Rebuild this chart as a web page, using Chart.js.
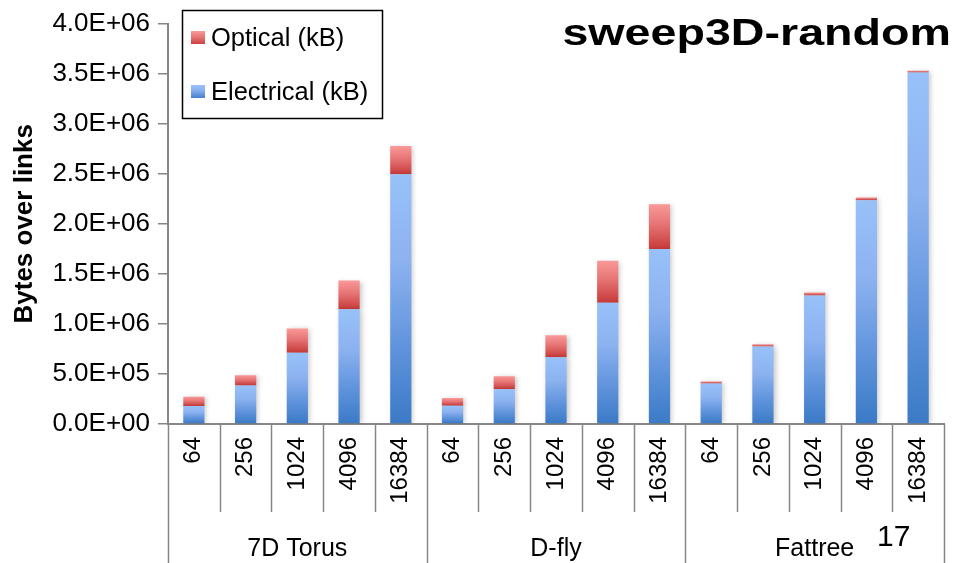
<!DOCTYPE html>
<html>
<head>
<meta charset="utf-8">
<script src="https://cdn.jsdelivr.net/npm/chart.js@4/dist/chart.umd.min.js"></script>
<style>
  html, body { margin: 0; padding: 0; background: #ffffff; }
  #wrap { width: 961px; height: 563px; }
</style>
</head>
<body>
<div id="wrap"><canvas id="chart" width="961" height="563"></canvas></div>
<script>
// Topologies and node counts
const networks = ['7D Torus', 'D-fly', 'Fattree'];
const nodeCounts = ['64', '256', '1024', '4096', '16384'];

// Bytes carried over links, per topology / node count (kB)
const electricalKB = [
  179000, 385000, 713000, 1147000, 2494000,
  182000, 348000, 667000, 1211000, 1748000,
  405000, 773000, 1284000, 2235000, 3512000
];
const opticalKB = [
  93000, 103000, 242000, 286000, 282000,
  77000, 130000, 219000, 421000, 448000,
  20000, 23000, 29000, 27000, 17000
];

// Y axis ticks
const yTickValues = [0, 500000, 1000000, 1500000, 2000000, 2500000, 3000000, 3500000, 4000000];

const chartTitle = 'sweep3D-random';
const pageNumber = '17';

const FONT = '"Liberation Sans", Arial, Helvetica, sans-serif';
const AXIS_GREY = '#878787';

const categories = [];
networks.forEach(() => nodeCounts.forEach(n => categories.push(n)));

function sci(v) {
  if (v === 0) return '0.0E+00';
  const e = Math.floor(Math.log10(Math.abs(v)) + 1e-9);
  const m = v / Math.pow(10, e);
  const sign = e < 0 ? '-' : '+';
  return m.toFixed(1) + 'E' + sign + String(Math.abs(e)).padStart(2, '0');
}

const palettes = {
  electrical: [[0, '#98c1f9'], [0.35, '#8cb2f0'], [0.7, '#5f93dc'], [1, '#3b7ac6']],
  optical: [[0, '#fa9999'], [0.45, '#e67474'], [1, '#c73a3a']]
};

function makeGradient(ctx, stops, y0, y1) {
  const g = ctx.createLinearGradient(0, y0, 0, y1);
  stops.forEach(s => g.addColorStop(s[0], s[1]));
  return g;
}

// Vertical gradient and soft shadow for every bar segment
const barStyle = {
  id: 'barStyle',
  beforeDatasetsDraw(chart) {
    const ctx = chart.ctx;
    chart.data.datasets.forEach((ds, di) => {
      const meta = chart.getDatasetMeta(di);
      meta.data.forEach(el => {
        const top = Math.min(el.y, el.base);
        const bot = Math.max(el.y, el.base);
        const grad = makeGradient(ctx, palettes[ds.key], top, bot);
        el.options = Object.assign({}, el.options, { backgroundColor: grad });
      });
    });
    ctx.save();
    ctx.shadowColor = 'rgba(0,0,0,0.22)';
    ctx.shadowBlur = 5;
    ctx.shadowOffsetX = 2;
    ctx.shadowOffsetY = 1;
  },
  afterDatasetsDraw(chart) {
    chart.ctx.restore();
  }
};

// Category separators, group labels, legend box, title and page number
const decorations = {
  id: 'decorations',
  afterDraw(chart) {
    const ctx = chart.ctx;
    const x = chart.scales.x;
    const area = chart.chartArea;
    const n = categories.length;
    const per = nodeCounts.length;

    ctx.save();
    ctx.strokeStyle = AXIS_GREY;
    ctx.lineWidth = 1.5;
    for (let i = 0; i <= n; i++) {
      const px = Math.round(x.getPixelForValue(i - 0.5)) + 0.5;
      const groupEdge = i % per === 0;
      ctx.beginPath();
      ctx.moveTo(px, area.bottom);
      ctx.lineTo(px, groupEdge ? chart.height : 512);
      ctx.stroke();
    }

    ctx.fillStyle = '#000';
    ctx.font = '25px ' + FONT;
    ctx.textAlign = 'center';
    ctx.textBaseline = 'alphabetic';
    networks.forEach((name, g) => {
      const a = x.getPixelForValue(g * per - 0.5);
      const b = x.getPixelForValue(g * per + per - 0.5);
      ctx.fillText(name, (a + b) / 2, 556);
    });

    ctx.font = '30px ' + FONT;
    ctx.textAlign = 'left';
    ctx.fillText(pageNumber, 877, 546);

    // legend
    const box = { l: 182, t: 10, r: 382, b: 118 };
    ctx.fillStyle = '#fff';
    ctx.fillRect(box.l, box.t, box.r - box.l, box.b - box.t);
    ctx.strokeStyle = '#000';
    ctx.lineWidth = 1.5;
    ctx.strokeRect(box.l + 0.5, box.t + 0.5, box.r - box.l, box.b - box.t);
    const items = chart.data.datasets.slice().reverse();
    const rows = [38, 92];
    ctx.font = '25.5px ' + FONT;
    ctx.textBaseline = 'middle';
    items.forEach((ds, k) => {
      const cy = rows[k];
      ctx.fillStyle = makeGradient(ctx, palettes[ds.key], cy - 7, cy + 7);
      ctx.fillRect(191, cy - 7, 14, 13);
      ctx.fillStyle = '#000';
      ctx.fillText(ds.label, 211, cy + 1);
    });

    // title
    ctx.font = 'bold 37px ' + FONT;
    ctx.textAlign = 'right';
    ctx.textBaseline = 'alphabetic';
    ctx.translate(951, 45);
    ctx.scale(1.26, 1);
    ctx.fillText(chartTitle, 0, 0);
    ctx.restore();
  }
};

new Chart(document.getElementById('chart'), {
  type: 'bar',
  data: {
    labels: categories,
    datasets: [
      { key: 'electrical', label: 'Electrical (kB)', data: electricalKB, backgroundColor: '#6f9fe4', borderWidth: 0 },
      { key: 'optical', label: 'Optical (kB)', data: opticalKB, backgroundColor: '#e06666', borderWidth: 0 }
    ]
  },
  options: {
    responsive: false,
    animation: false,
    events: [],
    devicePixelRatio: 1,
    layout: { padding: { top: 22, right: 17, left: 0, bottom: 0 } },
    datasets: { bar: { categoryPercentage: 1, barPercentage: 0.41 } },
    plugins: {
      legend: { display: false },
      title: { display: false },
      tooltip: { enabled: false }
    },
    scales: {
      x: {
        stacked: true,
        offset: true,
        grid: { display: false, drawTicks: false },
        border: { display: true, color: AXIS_GREY, width: 2 },
        ticks: {
          autoSkip: false,
          minRotation: 90,
          maxRotation: 90,
          padding: 13,
          color: '#000',
          font: { family: FONT, size: 24 }
        },
        afterFit(scale) { scale.height = 139; }
      },
      y: {
        stacked: true,
        min: 0,
        max: 4000000,
        afterBuildTicks(scale) { scale.ticks = yTickValues.map(v => ({ value: v })); },
        grid: { drawOnChartArea: false, drawTicks: true, tickLength: 10, color: AXIS_GREY, lineWidth: 1.5 },
        border: { display: true, color: AXIS_GREY, width: 2 },
        ticks: {
          padding: 8,
          color: '#000',
          font: { family: FONT, size: 26 },
          callback: v => sci(v)
        },
        title: {
          display: true,
          text: 'Bytes over links',
          color: '#000',
          font: { family: FONT, size: 26, weight: 'bold' },
          padding: { top: 9, bottom: 0 }
        },
        afterFit(scale) { scale.width = 168; }
      }
    }
  },
  plugins: [barStyle, decorations]
});
</script>
</body>
</html>
